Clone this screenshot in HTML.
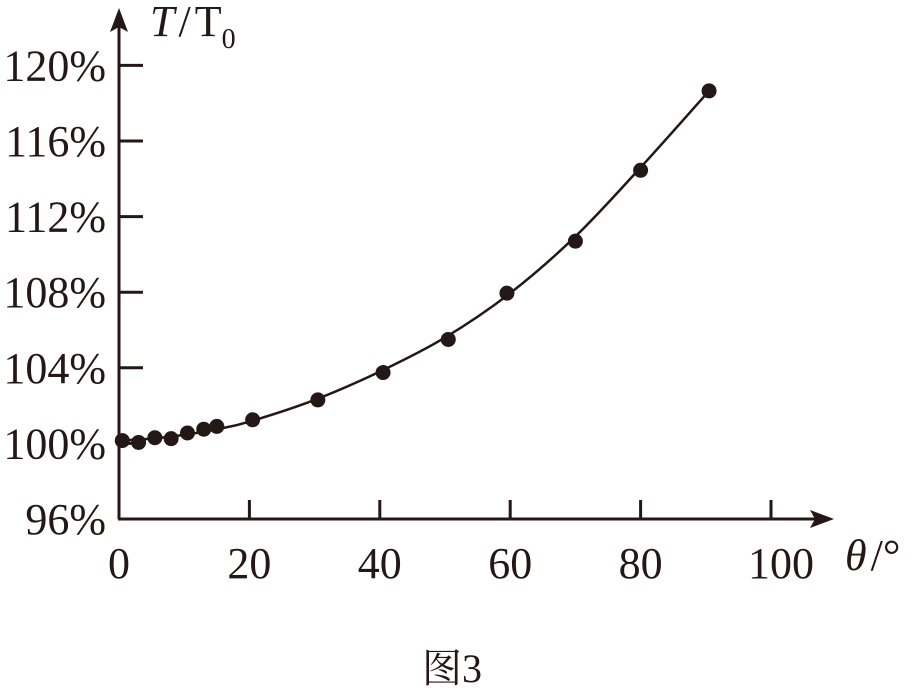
<!DOCTYPE html>
<html><head><meta charset="utf-8"><style>
body{margin:0;background:#fff}
svg text{font-family:"Liberation Serif","Noto Serif CJK SC",serif;fill:#231815}
</style></head><body>
<svg id="chart" width="915" height="693" viewBox="0 0 915 693" xmlns="http://www.w3.org/2000/svg">
<g id="axes" stroke="#231815" stroke-width="3" fill="none">
<line x1="119" y1="519" x2="119" y2="20"/>
<line x1="118" y1="519" x2="822" y2="519"/>
</g>
<polygon points="119,8 110,32 119,27 128,32" fill="#231815"/>
<polygon points="834,519 810,510 815,519 810,528" fill="#231815"/>
<text x="150" y="36" font-size="44"><tspan font-style="italic">T</tspan><tspan dx="4">/</tspan><tspan dx="4">T</tspan><tspan font-size="28" dy="12">0</tspan></text>
<text x="845" y="570" font-size="44"><tspan font-style="italic">θ</tspan><tspan dx="4">/°</tspan></text>
<text x="452" y="682" font-size="40" text-anchor="middle">图3</text>
<g id="ticks"></g>
<g id="series"></g>
</svg>
<script>
const xTicks=[0,20,40,60,80,100];
const yTicks=[96,100,104,108,112,116,120];
const thetaValues=[0.5,3,5.5,8,10.5,13,15,20.5,30.5,40.5,50.5,59.5,70,80,90.5];
const ratioValues=[100.15,100.05,100.3,100.25,100.55,100.75,100.9,101.25,102.3,103.75,105.5,107.95,110.7,114.45,118.65];
const curveTheta=[0,5,10,15,20,30,40,50,60,70,80,90.5];
const curveRatio=[100.15,100.25,100.45,100.75,101.15,102.3,103.8,105.6,107.95,110.95,114.6,118.65];
const X=v=>119+v*6.52;
const Y=v=>519-(v-96)*18.9;
const NS="http://www.w3.org/2000/svg";
const tk=document.getElementById('ticks');
const sr=document.getElementById('series');
function mk(tag,attrs,parent){const e=document.createElementNS(NS,tag);for(const k in attrs)e.setAttribute(k,attrs[k]);parent.appendChild(e);return e;}
xTicks.forEach(v=>{
 if(v>0){const l=mk('line',{x1:X(v),x2:X(v),y1:519,y2:500,stroke:'#231815','stroke-width':3},tk);
 
 }
 const t=mk('text',{x:X(v)+(v===100?10:0),y:578,'font-size':44,'text-anchor':'middle'},tk);t.textContent=v;
 
 
});
yTicks.forEach(v=>{
 if(v>96){const l=mk('line',{x1:119,x2:143,y1:Y(v),y2:Y(v),stroke:'#231815','stroke-width':3},tk);
 
 }
 const t=mk('text',{x:106,y:Y(v)+15,'font-size':44,'text-anchor':'end'},tk);t.textContent=v+'%';
 
 
});
const P=curveTheta.map((t,i)=>[X(t),Y(curveRatio[i])]);
let d='M'+P[0][0]+','+P[0][1];
for(let i=0;i<P.length-1;i++){const p0=P[i-1]||P[i],p1=P[i],p2=P[i+1],p3=P[i+2]||P[i+1];
 d+=' C'+(p1[0]+(p2[0]-p0[0])/6)+','+(p1[1]+(p2[1]-p0[1])/6)+' '+(p2[0]-(p3[0]-p1[0])/6)+','+(p2[1]-(p3[1]-p1[1])/6)+' '+p2[0]+','+p2[1];}
const c=mk('path',{d:d,fill:'none',stroke:'#231815','stroke-width':2.5},sr);


thetaValues.forEach((t,i)=>{
 const p=mk('circle',{cx:X(t),cy:Y(ratioValues[i]),r:7.5,fill:'#231815'},sr);
 
 
});
</script>
</body></html>
